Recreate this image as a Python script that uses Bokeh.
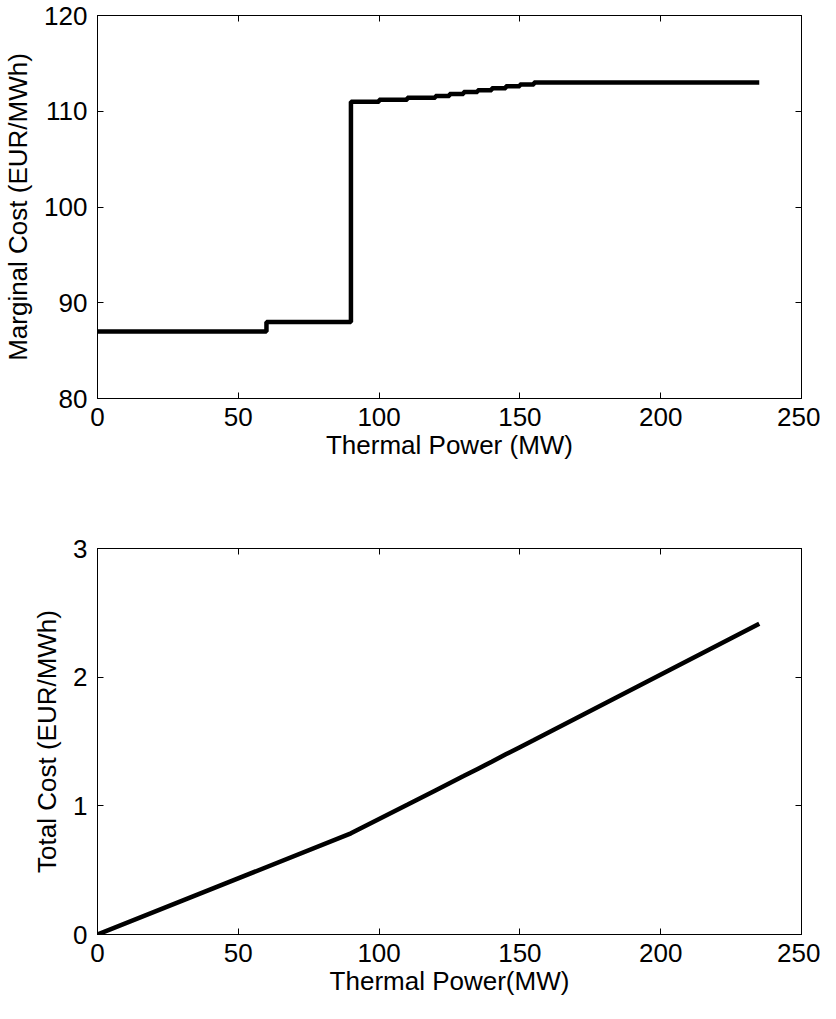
from bokeh.plotting import figure
from bokeh.models import LinearAxis, FixedTicker, Range1d
from bokeh.layouts import column
from bokeh.embed import file_html
from bokeh.resources import INLINE

# Marginal cost staircase (MW, EUR/MWh)
mc_power = [0, 60, 90, 100, 110, 120, 125, 130, 135, 140, 145, 150, 155, 235]
mc_cost = [87, 88, 111, 111.2, 111.4, 111.6, 111.8, 112.0, 112.2, 112.4, 112.6, 112.8, 113.0, 113.0]

# Total cost curve
tc_power = [0, 90, 100, 110, 120, 125, 130, 135, 140, 145, 150, 155, 235]
tc_cost = [0, 0.786, 0.897, 1.008, 1.120, 1.176, 1.231, 1.287, 1.343, 1.400, 1.456, 1.512, 2.416]

x_ticks = [0, 50, 100, 150, 200, 250]
mc_ticks = [80, 90, 100, 110, 120]
tc_ticks = [0, 1, 2, 3]

FONT = "Liberation Sans"
FS = "26px"


def style(p, xt, yt, xlabel, ylabel):
    p.outline_line_color = "black"
    p.outline_line_width = 1
    p.xgrid.visible = False
    p.ygrid.visible = False
    p.background_fill_color = "white"
    p.border_fill_color = "white"
    for ax, ticks, lab in ((p.xaxis[0], xt, xlabel), (p.yaxis[0], yt, ylabel)):
        ax.ticker = FixedTicker(ticks=ticks)
        ax.axis_label = lab
        ax.axis_label_text_font = FONT
        ax.axis_label_text_font_size = FS
        ax.axis_label_text_font_style = "normal"
        ax.axis_label_text_color = "black"
        ax.major_label_text_font = FONT
        ax.major_label_text_font_size = FS
        ax.major_label_text_color = "black"
        ax.major_tick_in = 6
        ax.major_tick_out = 0
        ax.minor_tick_line_color = None
        ax.axis_line_color = "black"
        ax.major_tick_line_color = "black"
    p.xaxis[0].major_label_standoff = 9
    p.xaxis[0].axis_label_standoff = 1
    p.yaxis[0].major_label_standoff = 10
    p.yaxis[0].axis_label_standoff = 8
    for loc, ticks in (("above", xt), ("right", yt)):
        a = LinearAxis(ticker=FixedTicker(ticks=ticks))
        a.major_label_text_font_size = "0px"
        a.major_label_text_color = None
        a.major_tick_in = 6
        a.major_tick_out = 0
        a.minor_tick_line_color = None
        a.axis_line_color = "black"
        a.major_tick_line_color = "black"
        a.major_label_standoff = 0
        p.add_layout(a, loc)


p1 = figure(width=820, height=468, output_backend="svg", toolbar_location=None,
            x_range=Range1d(0, 250), y_range=Range1d(80, 120),
            min_border_left=97, min_border_right=19, min_border_top=15, min_border_bottom=70)
p1.step(mc_power, mc_cost, mode="after", line_color="black", line_width=4.5)
style(p1, x_ticks, mc_ticks, "Thermal Power (MW)", "Marginal Cost (EUR/MWh)")

p2 = figure(width=820, height=535, output_backend="svg", toolbar_location=None,
            x_range=Range1d(0, 250), y_range=Range1d(0, 3),
            min_border_left=97, min_border_right=19, min_border_top=80, min_border_bottom=69)
p2.line(tc_power, tc_cost, line_color="black", line_width=4.5)
style(p2, x_ticks, tc_ticks, "Thermal Power(MW)", "Total Cost (EUR/MWh)")

layout = column(p1, p2, spacing=0)
open("out.html", "w").write(file_html(layout, INLINE))
